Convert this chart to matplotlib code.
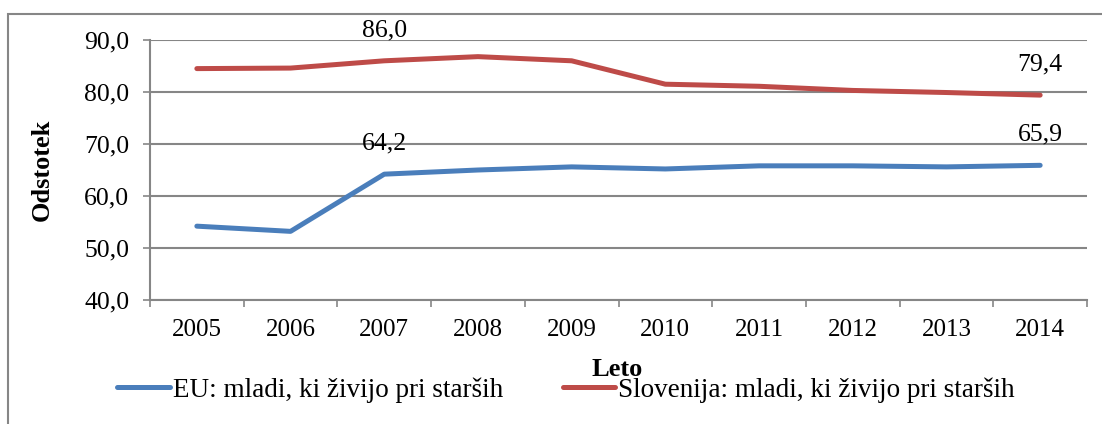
import numpy as np
import matplotlib.pyplot as plt
from matplotlib.patches import Rectangle

plt.rcParams['font.family'] = ['Liberation Serif', 'DejaVu Serif']

# data
years = ['2005', '2006', '2007', '2008', '2009', '2010', '2011', '2012', '2013', '2014']
eu = [54.2, 53.2, 64.2, 65.0, 65.6, 65.2, 65.8, 65.8, 65.6, 65.9]
slo = [84.5, 84.6, 86.0, 86.8, 86.0, 81.5, 81.1, 80.3, 79.9, 79.4]
eu_label = 'EU: mladi, ki živijo pri starših'
slo_label = 'Slovenija: mladi, ki živijo pri starših'
blue = '#4A7EBB'
red = '#BE4B48'
grid = '#868686'

fig = plt.figure(figsize=(11.02, 4.24), dpi=100)
ax = fig.add_axes([150/1102, 1-300/424, (1087-150)/1102, 260/424])

# outer frame of the chart
fig.patches.append(Rectangle((8/1102, -0.1), 1.1, 1.1-14/424, transform=fig.transFigure,
                             fill=False, edgecolor=grid, linewidth=1.5))

x = np.arange(len(years))
l1, = ax.plot(x, eu, color=blue, lw=3.6, solid_capstyle='round', label=eu_label)
l2, = ax.plot(x, slo, color=red, lw=3.6, solid_capstyle='round', label=slo_label)

# data labels
for i in [2, 9]:
    ax.annotate(f"{eu[i]:.1f}".replace('.', ','), (x[i], eu[i]), xytext=(0, 22),
                textcoords='offset points', ha='center', va='center', fontsize=18.5)
    ax.annotate(f"{slo[i]:.1f}".replace('.', ','), (x[i], slo[i]), xytext=(0, 22),
                textcoords='offset points', ha='center', va='center', fontsize=18.5)

ax.set_ylim(40, 90)
ax.set_yticks(np.arange(40, 91, 10))
ax.set_yticklabels([f"{v:.1f}".replace('.', ',') for v in np.arange(40, 91, 10)], fontsize=18.5)
ax.yaxis.grid(True, color=grid, lw=1.5)
ax.set_axisbelow(True)

ax.set_xlim(-0.5, 9.5)
ax.set_xticks(np.arange(-0.5, 10, 1))
ax.set_xticklabels([])
ax.set_xticks(x, minor=True)
ax.set_xticklabels(years, minor=True, fontsize=18)
ax.tick_params(axis='x', which='minor', length=0, pad=14)
ax.tick_params(axis='both', which='major', length=5, width=1.2, color=grid)
ax.tick_params(axis='y', pad=10)

for s in ['top', 'right']:
    ax.spines[s].set_visible(False)
for s in ['left', 'bottom']:
    ax.spines[s].set_color(grid)
    ax.spines[s].set_linewidth(1.5)

ax.set_ylabel('Odstotek', fontsize=19, fontweight='bold', labelpad=22)
fig.text(617/1102, 1-370/424, 'Leto', fontsize=19, fontweight='bold', ha='center', va='center')

fig.legend(handles=[l1, l2], loc='center', bbox_to_anchor=(566/1102, 1-390/424), ncol=2,
           frameon=False, fontsize=19.5, handlelength=1.95, handletextpad=0.1, columnspacing=2.2)

plt.savefig('out.png', dpi=100)
